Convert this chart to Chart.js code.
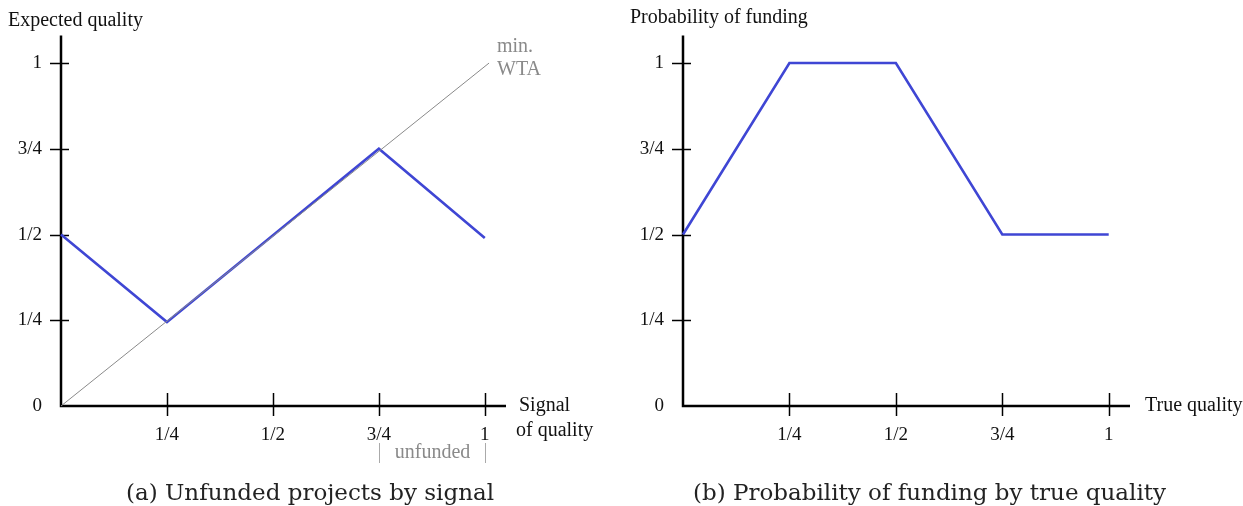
<!DOCTYPE html>
<html>
<head>
<meta charset="utf-8">
<script src="https://cdn.jsdelivr.net/npm/chart.js@4.4.1/dist/chart.umd.min.js"></script>
<style>
  html, body { margin: 0; padding: 0; background: #fff; }
  #wrap { position: relative; width: 1243px; height: 506px; overflow: hidden; }
  canvas { position: absolute; top: 0; }
  .cap { position: absolute; top: 477px; font-family: "DejaVu Serif", serif; font-size: 23px; color: #222; white-space: nowrap; line-height: 30px; }
</style>
</head>
<body>
<div id="wrap">
  <canvas id="left" width="620" height="506" style="left:0px"></canvas>
  <canvas id="right" width="623" height="506" style="left:620px"></canvas>
  <div class="cap" id="capA" style="left:126px">(a) Unfunded projects by signal</div>
  <div class="cap" id="capB" style="left:693px">(b) Probability of funding by true quality</div>
</div>
<script>
// Tick positions and their fraction labels (shared by both panels)
const tickValues = [0.25, 0.5, 0.75, 1];
const tickLabels = ['1/4', '1/2', '3/4', '1'];
const yTickValues = [0, 0.25, 0.5, 0.75, 1];
const yTickLabels = ['0', '1/4', '1/2', '3/4', '1'];

// Panel (a): expected quality of unfunded projects by signal
const signalX = [0, 0.25, 0.75, 1];
const expectedQuality = [0.5, 0.245, 0.75, 0.49];
// minimum willingness-to-accept reference line
const wtaX = [0, 1.01];
const wtaY = [0, 1.0];

// Panel (b): probability of funding by true quality
const trueQualityX = [0, 0.25, 0.5, 0.75, 1];
const fundingProb = [0.5, 1, 1, 0.5, 0.5];

const BLUE = '#3f46d4';
const GREY = '#8a8a8a';
const SERIF = '"Liberation Serif", "Times New Roman", serif';

// Draws the crossed axes, tick marks, tick labels and axis captions
function axesPlugin(cfg) {
  return {
    id: 'axes_' + cfg.name,
    beforeDatasetsDraw(chart) {
      const ctx = chart.ctx;
      const xs = chart.scales.x, ys = chart.scales.y;
      const x0 = xs.getPixelForValue(0), y0 = ys.getPixelForValue(0);
      const xEnd = xs.getPixelForValue(xs.max), yTop = ys.getPixelForValue(ys.max);
      ctx.save();
      ctx.strokeStyle = '#000';
      ctx.lineWidth = 2.5;
      ctx.beginPath();
      ctx.moveTo(x0, yTop); ctx.lineTo(x0, y0); ctx.lineTo(xEnd, y0);
      ctx.stroke();
      ctx.lineWidth = 1.5;
      // x tick marks crossing the axis
      tickValues.forEach(v => {
        const px = Math.round(xs.getPixelForValue(v)) + 0.5;
        ctx.beginPath(); ctx.moveTo(px, y0 - 13); ctx.lineTo(px, y0 + 10); ctx.stroke();
      });
      // y tick marks crossing the axis
      yTickValues.slice(1).forEach(v => {
        const py = Math.round(ys.getPixelForValue(v)) + 0.5;
        ctx.beginPath(); ctx.moveTo(x0 - 11, py); ctx.lineTo(x0 + 8, py); ctx.stroke();
      });
      ctx.fillStyle = '#111';
      ctx.font = '19px ' + SERIF;
      ctx.textBaseline = 'middle';
      ctx.textAlign = 'center';
      tickValues.forEach((v, i) => {
        ctx.fillText(tickLabels[i], xs.getPixelForValue(v), y0 + 29);
      });
      ctx.textAlign = 'right';
      yTickValues.forEach((v, i) => {
        ctx.fillText(yTickLabels[i], x0 - 19, ys.getPixelForValue(v));
      });
      ctx.font = '20px ' + SERIF;
      ctx.textAlign = 'left';
      ctx.fillText(cfg.yTitle, cfg.yTitleX, cfg.yTitleY);
      cfg.xTitle.forEach((t, i) => ctx.fillText(t, cfg.xTitleX[i], y0 + i * 25));
      if (cfg.extra) cfg.extra(chart, ctx, xs, ys);
      ctx.restore();
    }
  };
}

function makeChart(id, datasets, xMax, pad, plugin) {
  return new Chart(document.getElementById(id), {
    type: 'line',
    data: { datasets },
    options: {
      responsive: false,
      animation: false,
      layout: { padding: pad },
      plugins: { legend: { display: false }, tooltip: { enabled: false } },
      scales: {
        x: { type: 'linear', min: 0, max: xMax, display: false },
        y: { type: 'linear', min: 0, max: 1.08, display: false }
      },
      elements: { point: { radius: 0 }, line: { tension: 0 } }
    },
    plugins: [plugin]
  });
}

makeChart('left', [
  {
    data: wtaX.map((x, i) => ({ x, y: wtaY[i] })),
    borderColor: GREY, borderWidth: 1, clip: false
  },
  {
    data: signalX.map((x, i) => ({ x, y: expectedQuality[i] })),
    borderColor: BLUE, borderWidth: 2.6, clip: false, borderJoinStyle: 'miter'
  }
], 1.05, { left: 61, right: 114, top: 35.6, bottom: 100 }, axesPlugin({
  name: 'a',
  yTitle: 'Expected quality', yTitleX: 8, yTitleY: 21,
  xTitle: ['Signal', 'of quality'], xTitleX: [519, 516],
  extra(chart, ctx, xs, ys) {
    ctx.fillStyle = GREY;
    ctx.fillText('min.', 497, 47);
    ctx.fillText('WTA', 497, 70);
    const y0 = ys.getPixelForValue(0);
    const a = Math.round(xs.getPixelForValue(0.75)) + 0.5;
    const b = Math.round(xs.getPixelForValue(1)) + 0.5;
    ctx.strokeStyle = '#aaa'; ctx.lineWidth = 1;
    ctx.beginPath();
    ctx.moveTo(a, y0 + 37); ctx.lineTo(a, y0 + 57);
    ctx.moveTo(b, y0 + 37); ctx.lineTo(b, y0 + 57);
    ctx.stroke();
    ctx.textAlign = 'center';
    ctx.fillText('unfunded', (a + b) / 2, y0 + 47);
  }
}));

makeChart('right', [
  {
    data: trueQualityX.map((x, i) => ({ x, y: fundingProb[i] })),
    borderColor: BLUE, borderWidth: 2.6, clip: false, borderJoinStyle: 'miter'
  }
], 1.05, { left: 63, right: 113, top: 35.6, bottom: 100 }, axesPlugin({
  name: 'b',
  yTitle: 'Probability of funding', yTitleX: 10, yTitleY: 18,
  xTitle: ['True quality'], xTitleX: [525]
}));
</script>
</body>
</html>
